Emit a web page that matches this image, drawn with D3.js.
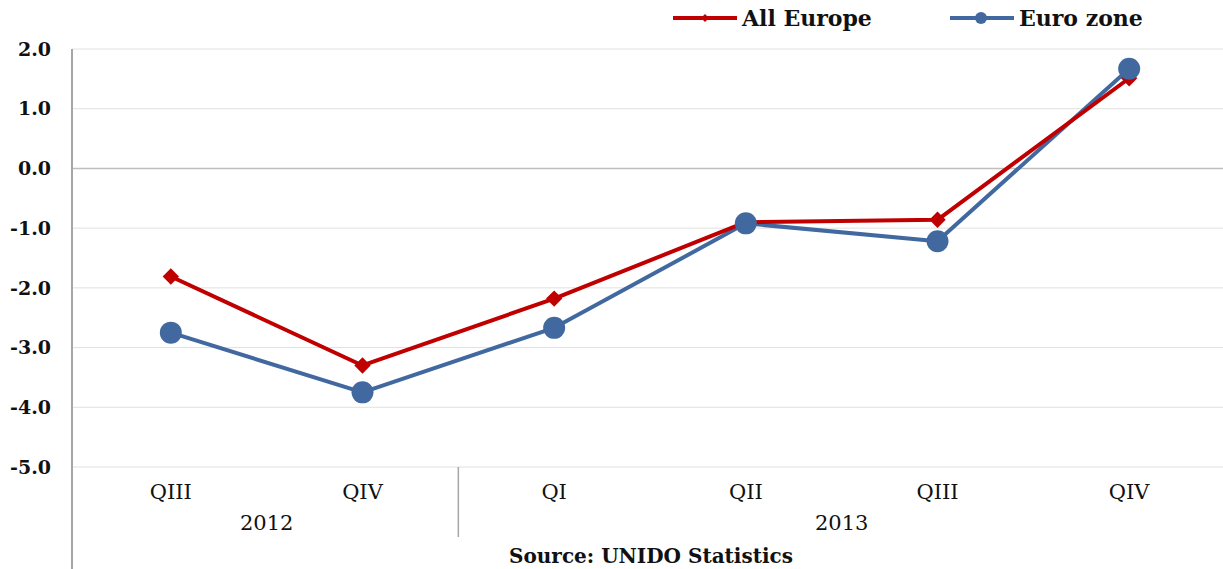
<!DOCTYPE html>
<html>
<head>
<meta charset="utf-8">
<script src="https://cdn.jsdelivr.net/npm/d3@7"></script>
<style>
  body { margin: 0; background: #fff; }
  text { font-family: "DejaVu Serif", "Liberation Serif", serif; fill: #111; }
</style>
</head>
<body>
<svg width="1223" height="569"></svg>
<script>
var quarters = ["QIII", "QIV", "QI", "QII", "QIII", "QIV"];
var years = ["2012", "2012", "2013", "2013", "2013", "2013"];
var allEurope = [-1.81, -3.30, -2.18, -0.90, -0.86, 1.51];
var euroZone = [-2.75, -3.75, -2.67, -0.92, -1.22, 1.67];
var yTicks = [2, 1, 0, -1, -2, -3, -4, -5];

var red = "#c00000", blue = "#4169a0";

var svg = d3.select("svg");

var x = d3.scaleBand()
    .domain(d3.range(quarters.length))
    .range([75, 1225]);

var y = d3.scaleLinear()
    .domain([-5, 2])
    .range([467, 49]);

// gridlines
svg.append("g")
    .selectAll("line")
    .data(yTicks)
    .join("line")
    .attr("x1", 72)
    .attr("x2", 1223)
    .attr("y1", d => y(d))
    .attr("y2", d => y(d))
    .attr("stroke", d => d === 0 ? "#bfbfbf" : "#e0e0e0")
    .attr("stroke-width", d => d === 0 ? 1.5 : 1);

// y axis line
svg.append("line")
    .attr("x1", 72).attr("x2", 72)
    .attr("y1", y(2)).attr("y2", 569)
    .attr("stroke", "#a6a6a6")
    .attr("stroke-width", 2);

// year separator
svg.append("line")
    .attr("x1", x(2)).attr("x2", x(2))
    .attr("y1", y(-5)).attr("y2", 537)
    .attr("stroke", "#a6a6a6")
    .attr("stroke-width", 1.5);

// y labels
svg.append("g")
    .selectAll("text")
    .data(yTicks)
    .join("text")
    .attr("x", 51)
    .attr("y", d => y(d))
    .attr("dy", "0.35em")
    .attr("text-anchor", "end")
    .attr("font-size", 19)
    .attr("font-weight", "bold")
    .text(d => d.toFixed(1));

// quarter labels
svg.append("g")
    .selectAll("text")
    .data(quarters)
    .join("text")
    .attr("x", (d, i) => x(i) + x.bandwidth() / 2)
    .attr("y", 499)
    .attr("text-anchor", "middle")
    .attr("font-size", 21)
    .text(d => d);

// year labels
var yearGroups = d3.groups(years.map((d, i) => ({year: d, i: i})), d => d.year);
svg.append("g")
    .selectAll("text")
    .data(yearGroups)
    .join("text")
    .attr("x", d => (x(d[1][0].i) + x(d[1][d[1].length - 1].i) + x.bandwidth()) / 2)
    .attr("y", 530)
    .attr("text-anchor", "middle")
    .attr("font-size", 21)
    .text(d => d[0]);

// source
svg.append("text")
    .attr("x", 651)
    .attr("y", 563)
    .attr("text-anchor", "middle")
    .attr("font-size", 20)
    .attr("font-weight", "bold")
    .text("Source: UNIDO Statistics");

var line = d3.line()
    .x((d, i) => x(i) + x.bandwidth() / 2)
    .y(d => y(d));

// Euro zone
svg.append("path")
    .datum(euroZone)
    .attr("d", line)
    .attr("fill", "none")
    .attr("stroke", blue)
    .attr("stroke-width", 4)
    .attr("stroke-linejoin", "round");

// All Europe
svg.append("path")
    .datum(allEurope)
    .attr("d", line)
    .attr("fill", "none")
    .attr("stroke", red)
    .attr("stroke-width", 4)
    .attr("stroke-linejoin", "round");

svg.append("g")
    .selectAll("path")
    .data(allEurope)
    .join("path")
    .attr("d", d3.symbol(d3.symbolDiamond2, 170))
    .attr("transform", (d, i) => "translate(" + (x(i) + x.bandwidth() / 2) + "," + y(d) + ")")
    .attr("fill", red);

svg.append("g")
    .selectAll("circle")
    .data(euroZone)
    .join("circle")
    .attr("cx", (d, i) => x(i) + x.bandwidth() / 2)
    .attr("cy", d => y(d))
    .attr("r", 11)
    .attr("fill", blue);

// legend
var legend = [
  {name: "All Europe", color: red, x: 673, marker: "diamond"},
  {name: "Euro zone", color: blue, x: 950, marker: "circle"}
];
var lg = svg.append("g")
    .selectAll("g")
    .data(legend)
    .join("g")
    .attr("transform", d => "translate(" + d.x + ",18)");
lg.append("line")
    .attr("x1", 0).attr("x2", 64)
    .attr("stroke", d => d.color)
    .attr("stroke-width", 4);
lg.filter(d => d.marker === "diamond").append("path")
    .attr("d", d3.symbol(d3.symbolDiamond2, 40))
    .attr("transform", "translate(32,0)")
    .attr("fill", d => d.color);
lg.filter(d => d.marker === "circle").append("circle")
    .attr("cx", 31).attr("r", 6)
    .attr("fill", d => d.color);
lg.append("text")
    .attr("x", 69)
    .attr("dy", "0.35em")
    .attr("font-size", 22)
    .attr("font-weight", "bold")
    .text(d => d.name);
</script>
</body>
</html>
